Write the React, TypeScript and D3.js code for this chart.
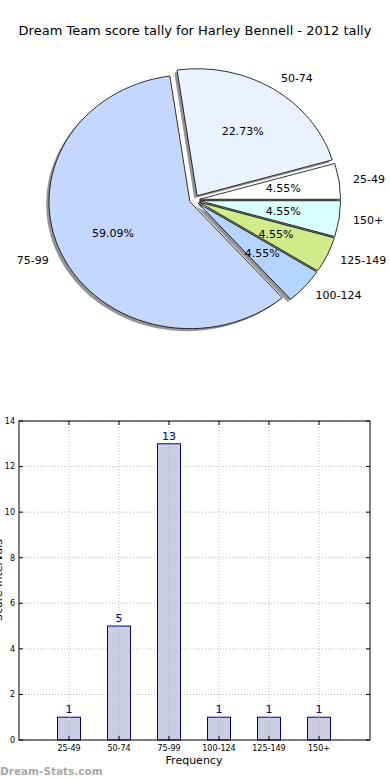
import React, { useEffect, useRef } from 'react'
import * as d3 from 'd3'

const categories = ['25-49', '50-74', '75-99', '100-124', '125-149', '150+']
const counts = [1, 5, 13, 1, 1, 1]
const sliceColors = ['#ffffff', '#eaf1ff', '#c4d8ff', '#b4d5ff', '#d0eb8a', '#dbffff']
const explode = [0.04, 0.04, 0.032, 0.04, 0.04, 0.04]
const yTicks = [0, 2, 4, 6, 8, 10, 12, 14]

const FONT = '"DejaVu Sans", Verdana, sans-serif'

export default function App() {
  const svgRef = useRef<SVGSVGElement | null>(null)

  useEffect(() => {
    const svg = d3.select(svgRef.current)
    svg.selectAll('*').remove()

    svg.append('rect').attr('width', 390).attr('height', 780).attr('fill', '#fff')

    // title
    svg
      .append('text')
      .attr('x', 195)
      .attr('y', 35)
      .attr('text-anchor', 'middle')
      .style('font-family', FONT)
      .style('font-size', '13px')
      .text('Dream Team score tally for Harley Bennell - 2012 tally')

    // ---- pie (elliptical, like a non-equal aspect matplotlib pie)
    const cx = 194
    const cy = 200
    const rx = 141
    const ry = 127
    const total = d3.sum(counts)

    const pie = d3
      .pie<number>()
      .sort(null)
      .startAngle(Math.PI / 2)
      .endAngle(Math.PI / 2 - 2 * Math.PI)
    const arcs = pie(counts)
    const unitArc = d3.arc<d3.PieArcDatum<number>>().innerRadius(0).outerRadius(1)

    const slices = arcs.map((a, i) => {
      const mid = Math.PI / 2 - (a.startAngle + a.endAngle) / 2 // ccw from east
      const c = Math.cos(mid)
      const s = Math.sin(mid)
      const ox = cx + explode[i] * rx * c
      const oy = cy - explode[i] * ry * s
      return { a, i, c, s, ox, oy }
    })

    const pieG = svg.append('g')
    // shadows first
    slices.forEach((d) => {
      pieG
        .append('path')
        .attr('d', unitArc(d.a) as string)
        .attr('transform', `translate(${d.ox - 0.02 * rx},${d.oy + 0.02 * ry}) scale(${rx},${ry})`)
        .attr('fill', '#000')
        .attr('fill-opacity', 0.42)
    })
    slices.forEach((d) => {
      pieG
        .append('path')
        .attr('d', unitArc(d.a) as string)
        .attr('transform', `translate(${d.ox},${d.oy}) scale(${rx},${ry})`)
        .attr('fill', sliceColors[d.i])
        .attr('stroke', '#000')
        .attr('stroke-width', 0.8)
        .attr('vector-effect', 'non-scaling-stroke')
    })
    slices.forEach((d) => {
      const e = explode[d.i]
      pieG
        .append('text')
        .attr('x', cx + (e + 1.1) * rx * d.c)
        .attr('y', cy - (e + 1.1) * ry * d.s)
        .attr('dy', '0.35em')
        .attr('text-anchor', d.c >= 0 ? 'start' : 'end')
        .style('font-family', FONT)
        .style('font-size', '11px')
        .text(categories[d.i])
      pieG
        .append('text')
        .attr('x', cx + (e + 0.6) * rx * d.c)
        .attr('y', cy - (e + 0.6) * ry * d.s)
        .attr('dy', '0.35em')
        .attr('text-anchor', 'middle')
        .style('font-family', FONT)
        .style('font-size', '11px')
        .text(((counts[d.i] / total) * 100).toFixed(2) + '%')
    })

    // ---- bar chart
    const left = 19
    const right = 370
    const top = 421
    const bottom = 740
    const x = d3.scaleLinear().domain([-1, 6.02]).range([left, right])
    const y = d3.scaleLinear().domain([0, 14]).range([bottom, top])
    const barW = 0.46

    const g = svg.append('g')
    // grid
    yTicks.forEach((t) => {
      g.append('line')
        .attr('x1', left)
        .attr('x2', right)
        .attr('y1', y(t))
        .attr('y2', y(t))
        .attr('stroke', '#bbb')
        .attr('stroke-width', 1)
        .attr('stroke-dasharray', '1,2')
    })
    categories.forEach((_, i) => {
      g.append('line')
        .attr('x1', x(i))
        .attr('x2', x(i))
        .attr('y1', top)
        .attr('y2', bottom)
        .attr('stroke', '#bbb')
        .attr('stroke-width', 1)
        .attr('stroke-dasharray', '1,2')
    })

    // bars
    g.selectAll('rect.bar')
      .data(counts)
      .enter()
      .append('rect')
      .attr('class', 'bar')
      .attr('x', (_, i) => x(i - barW / 2))
      .attr('width', (_, i) => x(i + barW / 2) - x(i - barW / 2))
      .attr('y', (d) => y(d))
      .attr('height', (d) => bottom - y(d))
      .attr('fill', '#cccce2')
      .attr('stroke', '#000080')
      .attr('stroke-width', 1)

    // grid drawn over bars like matplotlib (dotted)
    categories.forEach((_, i) => {
      g.append('line')
        .attr('x1', x(i))
        .attr('x2', x(i))
        .attr('y1', y(counts[i]))
        .attr('y2', bottom)
        .attr('stroke', '#aaa')
        .attr('stroke-width', 1)
        .attr('stroke-dasharray', '1,2')
    })

    g.selectAll('text.val')
      .data(counts)
      .enter()
      .append('text')
      .attr('class', 'val')
      .attr('x', (_, i) => x(i))
      .attr('y', (d) => y(d) - 4)
      .attr('text-anchor', 'middle')
      .attr('fill', '#000080')
      .style('font-family', FONT)
      .style('font-size', '11px')
      .text((d) => d)

    // frame
    g.append('rect')
      .attr('x', left)
      .attr('y', top)
      .attr('width', right - left)
      .attr('height', bottom - top)
      .attr('fill', 'none')
      .attr('stroke', '#000')
      .attr('stroke-width', 1)

    // ticks
    yTicks.forEach((t) => {
      g.append('line').attr('x1', left).attr('x2', left + 4).attr('y1', y(t)).attr('y2', y(t)).attr('stroke', '#000')
      g.append('line').attr('x1', right - 4).attr('x2', right).attr('y1', y(t)).attr('y2', y(t)).attr('stroke', '#000')
      g.append('text')
        .attr('x', left - 4)
        .attr('y', y(t))
        .attr('dy', '0.35em')
        .attr('text-anchor', 'end')
        .style('font-family', FONT)
        .style('font-size', '8px')
        .text(t)
    })
    categories.forEach((c, i) => {
      g.append('line').attr('x1', x(i)).attr('x2', x(i)).attr('y1', bottom - 4).attr('y2', bottom).attr('stroke', '#000')
      g.append('line').attr('x1', x(i)).attr('x2', x(i)).attr('y1', top).attr('y2', top + 4).attr('stroke', '#000')
      g.append('text')
        .attr('x', x(i))
        .attr('y', bottom + 11)
        .attr('text-anchor', 'middle')
        .style('font-family', FONT)
        .style('font-size', '8px')
        .text(c)
    })

    g.append('text')
      .attr('x', x(2.5))
      .attr('y', 764)
      .attr('text-anchor', 'middle')
      .style('font-family', FONT)
      .style('font-size', '11px')
      .text('Frequency')

    // y label, clipped at the left edge as in the original image
    g.append('text')
      .attr('transform', 'translate(2,580) rotate(-90)')
      .attr('text-anchor', 'middle')
      .style('font-family', FONT)
      .style('font-size', '11px')
      .text('Score Intervals')

    svg
      .append('text')
      .attr('x', 0)
      .attr('y', 775)
      .attr('fill', '#a8a8a8')
      .style('font-family', FONT)
      .style('font-size', '10.5px')
      .style('font-weight', 'bold')
      .text('Dream-Stats.com')
  }, [])

  return (
    <svg
      ref={svgRef}
      width={390}
      height={780}
      style={{ position: 'absolute', left: 0, top: 0, display: 'block' }}
    ></svg>
  )
}
